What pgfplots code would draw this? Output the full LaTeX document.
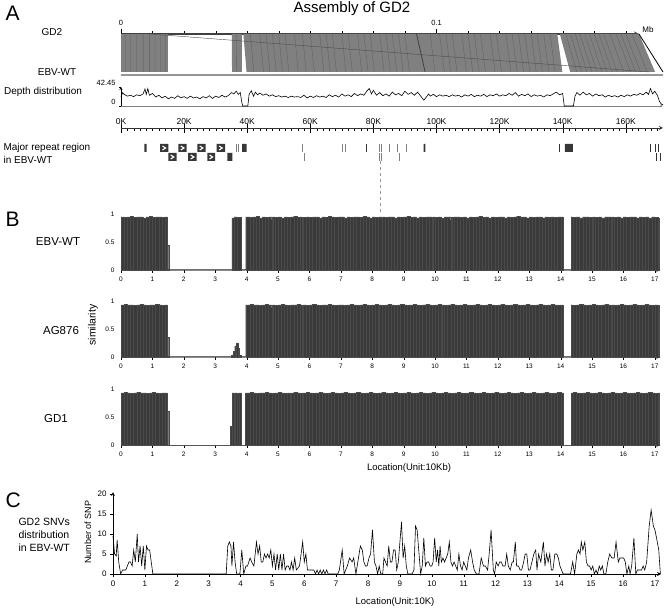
\documentclass[border=0pt]{standalone}
\usepackage{fontspec}
\setmainfont{Liberation Sans}
\usepackage{pgfplots}
\pgfplotsset{compat=1.18}
\definecolor{aligngray}{RGB}{128,128,128}
\definecolor{alignline}{RGB}{96,96,96}
\definecolor{ebvgray}{RGB}{150,150,150}
\definecolor{bardark}{RGB}{58,58,58}
\definecolor{barline}{RGB}{74,74,74}
\definecolor{repdark}{RGB}{55,55,55}
\definecolor{axisgray}{RGB}{120,120,120}

\pgfplotsset{
  base/.style={scale only axis, anchor=south west, clip=false,
    /pgf/number format/assume math mode=true,
    axis line style={-}, tick style={black}},
  simstyle/.style={base, width=539.5pt, height=56pt, xmin=0, xmax=17.18, ymin=0, ymax=1,
    axis x line=bottom, axis y line=left, y axis line style={draw=none},
    x axis line style={draw=axisgray, line width=1pt},
    xtick={0,...,17}, ytick={0,0.5,1}, yticklabels={0,0.5,1},
    tick align=outside, major tick length=3pt, ytick style={draw=none},
    tick label style={font=\fontsize{6.5}{7}\selectfont}},
  simbar/.style={ybar interval, fill=bardark, draw=barline, line width=0.2pt},
}

\newcommand{\lab}[1]{\fontsize{#1}{#1}\selectfont}

\begin{document}
\begin{tikzpicture}
\path[use as bounding box] (0pt,0pt) rectangle (664pt,-609pt);

% ---------------- panel A ----------------
\node[font=\lab{21}, anchor=west] at (2pt,-13pt) {A};
\node[font=\lab{15}] at (352pt,-9pt) {Assembly of GD2};
\node[font=\lab{10}] at (52pt,-32pt) {GD2};
\node[font=\lab{10}] at (57pt,-72pt) {EBV-WT};
\node[font=\lab{10}] at (43pt,-92pt) {Depth distribution};
\node[font=\lab{10}, anchor=west] at (0pt,-148pt) {Major repeat region};
\node[font=\lab{10}, anchor=west] at (0pt,-160pt) {in EBV-WT};
\node[font=\lab{8}] at (648pt,-30pt) {Mb};

% alignment GD2 -> EBV-WT (x in kb)
\begin{axis}[base, at={(121pt,-72pt)}, width=518pt, height=38pt,
  xmin=0, xmax=164.2, ymin=0, ymax=1,
  axis x line=top, axis y line=none,
  x axis line style={draw=black!75, line width=1.2pt},
  xtick={0,100}, xticklabels={0,0.1}, minor xtick={10,20,...,160},
  tick align=outside, major tick length=5pt, minor tick length=2.5pt,
  xticklabel style={font=\lab{7.5}}]
\addplot[fill=aligngray, draw=none] coordinates {(0,1)(15,1)(15,0)(0,0)};
\addplot[fill=aligngray, draw=none] coordinates {(35.1,1)(38.3,1)(38.3,0)(35.2,0)};
\addplot[fill=aligngray, draw=none] coordinates {(38.8,1)(138.3,1)(139.9,0)(39.8,0)};
\addplot[fill=aligngray, draw=none] coordinates {(139.1,1)(164.2,1)(169.3,0)(142.4,0)};
\addplot[draw=alignline, line width=0.35pt, unbounded coords=jump] coordinates {
  (1.5,1)(1.5,0) (nan,nan) (3,1)(3,0) (nan,nan) (5,1)(5,0) (nan,nan) (7,1)(7,0) (nan,nan)
  (9,1)(9,0) (nan,nan) (10.8,1)(10.8,0) (nan,nan) (12.5,1)(12.5,0) (nan,nan) (14,1)(14,0) (nan,nan)
  (36.5,1)(36.6,0) (nan,nan)
  (41,1)(42.1,0) (nan,nan) (44,1)(45.2,0) (nan,nan) (46,1)(47.2,0) (nan,nan) (48,1)(49.2,0) (nan,nan)
  (50,1)(51.2,0) (nan,nan) (52,1)(53.2,0) (nan,nan) (55,1)(56.2,0) (nan,nan) (57.5,1)(58.7,0) (nan,nan)
  (60,1)(61.3,0) (nan,nan) (63,1)(64.3,0) (nan,nan) (65,1)(66.3,0) (nan,nan) (67,1)(68.3,0) (nan,nan)
  (70,1)(71.3,0) (nan,nan) (72,1)(73.3,0) (nan,nan) (75,1)(76.3,0) (nan,nan) (77,1)(78.3,0) (nan,nan)
  (79,1)(80.3,0) (nan,nan) (82,1)(83.4,0) (nan,nan) (84,1)(85.4,0) (nan,nan) (86,1)(87.4,0) (nan,nan)
  (88,1)(89.4,0) (nan,nan) (90,1)(91.4,0) (nan,nan) (98,1)(99.5,0) (nan,nan) (101,1)(102.5,0) (nan,nan)
  (103,1)(104.5,0) (nan,nan) (105,1)(106.5,0) (nan,nan) (108,1)(109.5,0) (nan,nan) (110,1)(111.5,0) (nan,nan)
  (112,1)(113.5,0) (nan,nan) (114,1)(115.5,0) (nan,nan) (117,1)(118.6,0) (nan,nan) (119,1)(120.6,0) (nan,nan)
  (122,1)(123.6,0) (nan,nan) (124,1)(125.6,0) (nan,nan) (126,1)(127.6,0) (nan,nan) (128,1)(129.6,0) (nan,nan)
  (130,1)(131.6,0) (nan,nan) (132,1)(133.6,0) (nan,nan) (134,1)(135.6,0) (nan,nan) (136,1)(137.6,0) (nan,nan)
  (141,1)(144.5,0) (nan,nan) (142.5,1)(146.1,0) (nan,nan) (144,1)(147.7,0) (nan,nan) (145.5,1)(149.3,0) (nan,nan)
  (147,1)(150.9,0) (nan,nan) (148.5,1)(152.5,0) (nan,nan) (150,1)(154.1,0) (nan,nan) (151.5,1)(155.7,0) (nan,nan)
  (153,1)(157.3,0) (nan,nan) (155,1)(159.4,0) (nan,nan) (157,1)(161.5,0) (nan,nan) (158.5,1)(163.1,0) (nan,nan)
  (160,1)(164.7,0) (nan,nan) (162,1)(166.8,0)
};
\addplot[draw=black!75, line width=0.8pt] coordinates {(93.7,1)(96.4,0)};
\addplot[draw=black!70, line width=0.4pt] coordinates {(9.2,1)(167.5,0)};
\addplot[draw=black, line width=0.8pt] coordinates {(164.2,1)(171.8,0)};
\addplot[draw=ebvgray, line width=2.5pt] coordinates {(0,-0.08)(171.8,-0.08)};
\end{axis}

% depth distribution
\begin{axis}[base, at={(121pt,-106pt)}, width=542pt, height=19pt,
  xmin=0, xmax=171.8, ymin=0, ymax=42.45,
  axis x line=bottom, axis y line=left, x axis line style={draw=gray},
  xtick=\empty, ytick={0,42.45}, yticklabels={0,42.45},
  tick align=outside, major tick length=2pt,
  yticklabel style={font=\lab{7.5}, yshift=4pt}]
\addplot[black, line width=0.6pt] coordinates {
(0,20)(0.5,30)(1,26)(2,22)(3,24)(4,21)(5,25)(6,23)(7,27)(7.6,38)(8,26)(8.5,39)(9,24)(10,28)
(11,20)(12,24)(13,18)(14,22)(15,16)(16,20)(17,17)(18,23)(19,18)(20,21)(21,17)(22,22)(23,18)
(24,20)(25,16)(26,21)(27,18)(28,23)(29,17)(30,22)(31,19)(32,24)(33,20)(34,23)(35,30)(35.8,27)
(36.5,33)(37.2,26)(37.8,30)(38.3,8)(38.6,0)(40.2,0)(40.6,26)(41.3,34)(42,22)(42.6,31)(43.3,25)
(44,29)(45,24)(46,27)(47,22)(48,25)(49,21)(50,23)(51,20)(52,22)(53,19)(54,22)(55,20)(56,21)
(57,19)(58,24)(59,18)(60,22)(61,19)(62,23)(63,20)(64,22)(65,19)(66,25)(67,21)(68,24)(69,20)
(70,27)(71,22)(72,25)(73,21)(74,28)(75,23)(76,27)(77,24)(78,34)(78.7,39)(79.4,27)(80,35)(81,24)
(82,30)(83,23)(84,27)(85,22)(86,31)(87,25)(88,28)(89,23)(90,33)(91,26)(92,30)(93,24)(94,31)
(95,22)(96,13)(96.8,20)(97.5,27)(98,22)(99,26)(100,21)(101,25)(102,22)(103,24)(104,21)(105,25)
(106,22)(107,24)(108,20)(109,25)(110,22)(111,26)(112,21)(113,24)(114,22)(115,26)(116,21)(117,25)
(118,23)(119,27)(120,22)(121,25)(122,23)(123,28)(124,24)(125,30)(126,22)(127,26)(128,23)(129,27)
(130,21)(131,25)(132,22)(133,24)(134,20)(135,25)(136,23)(137,27)(138,31)(139,25)(140,28)(140.5,0)
(143.4,0)(143.9,22)(144.5,30)(145.5,24)(146.5,31)(147.5,25)(148.5,28)(149.5,22)(150.5,27)(151.5,23)
(152.5,25)(153.5,20)(154.5,24)(155.5,21)(156.5,23)(157.5,20)(158.5,24)(159.5,21)(160.5,25)(161.5,22)
(162.5,26)(163.5,24)(164.5,28)(165.5,25)(166.5,31)(167.2,26)(167.8,39)(168.5,27)(169.2,33)(170,24)
(170.7,10)(171.3,4)(171.8,3)
};
\end{axis}

% kb scale and major repeat regions (y: 0 at bottom row, 34 at scale line)
\begin{axis}[base, at={(121pt,-162pt)}, width=542pt, height=34pt,
  xmin=0, xmax=171.8, ymin=0, ymax=34,
  axis x line=top, axis y line=none,
  x axis line style={draw=black!80, line width=0.8pt},
  xtick={0,20,...,160}, xticklabels={0K,20K,40K,60K,80K,100K,120K,140K,160K},
  minor xtick={0,2,...,170},
  tick align=inside, major tick length=5pt, minor tick length=3pt,
  extra x ticks={0,20,...,160}, extra x tick labels={},
  extra x tick style={tick align=outside, major tick length=4pt},
  xticklabel style={font=\lab{8.5}}]
\addplot[fill=repdark, draw=none, unbounded coords=jump] coordinates {
  (7.4,10)(8.1,10)(8.1,18)(7.4,18) (nan,nan)
  (12.4,10)(15.0,10)(15.0,18)(12.4,18) (nan,nan)
  (18.2,10)(20.8,10)(20.8,18)(18.2,18) (nan,nan)
  (24.2,10)(26.8,10)(26.8,18)(24.2,18) (nan,nan)
  (30.3,10)(33.0,10)(33.0,18)(30.3,18) (nan,nan)
  (38.4,10)(39.8,10)(39.8,18)(38.4,18) (nan,nan)
  (95.9,10)(96.5,10)(96.5,18)(95.9,18) (nan,nan)
  (140.7,10)(143.2,10)(143.2,18)(140.7,18)
};
\addplot[fill=repdark, draw=none, unbounded coords=jump] coordinates {
  (15.0,1)(17.6,1)(17.6,9)(15.0,9) (nan,nan)
  (21.3,1)(24.0,1)(24.0,9)(21.3,9) (nan,nan)
  (27.4,1)(29.8,1)(29.8,9)(27.4,9) (nan,nan)
  (33.7,1)(35.3,1)(35.3,9)(33.7,9)
};
\addplot[white, line width=1.1pt, unbounded coords=jump] coordinates {
  (13.15,16)(14.15,14)(13.15,12) (nan,nan)
  (18.95,16)(19.95,14)(18.95,12) (nan,nan)
  (24.95,16)(25.95,14)(24.95,12) (nan,nan)
  (31.1,16)(32.1,14)(31.1,12) (nan,nan)
  (15.75,7)(16.75,5)(15.75,3) (nan,nan)
  (22.1,7)(23.1,5)(22.1,3) (nan,nan)
  (28.05,7)(29.05,5)(28.05,3)
};
\addplot[black!80, line width=0.7pt, unbounded coords=jump] coordinates {
  (77.9,10)(77.9,18) (nan,nan) (138.8,10)(138.8,18) (nan,nan)
  (167.7,10)(167.7,18) (nan,nan) (169.3,10)(169.3,18) (nan,nan) (170.2,10)(170.2,18) (nan,nan)
  (169.8,1)(169.8,9) (nan,nan) (170.9,1)(170.9,9)
};
\addplot[black!50, line width=0.5pt, unbounded coords=jump] coordinates {
  (36.4,10)(36.4,18) (nan,nan) (37.2,10)(37.2,18) (nan,nan) (57.5,10)(57.5,18) (nan,nan)
  (70.0,10)(70.0,18) (nan,nan) (71.0,10)(71.0,18) (nan,nan) (81.9,10)(81.9,18) (nan,nan)
  (82.4,10)(82.4,18) (nan,nan) (85.0,10)(85.0,18) (nan,nan) (87.7,10)(87.7,18) (nan,nan)
  (90.3,10)(90.3,18) (nan,nan)
  (58.0,1)(58.0,9) (nan,nan) (81.9,1)(81.9,9) (nan,nan) (82.4,1)(82.4,9) (nan,nan) (88.1,1)(88.1,9)
};
\addplot[black!40, dashed, line width=0.5pt] coordinates {(82.2,1)(82.2,-50)};
\end{axis}

% ---------------- panel B ----------------
\node[font=\lab{21}, anchor=west] at (2pt,-219pt) {B};
\node[font=\lab{11.5}] at (58pt,-242pt) {EBV-WT};
\node[font=\lab{11.5}] at (61pt,-331pt) {AG876};
\node[font=\lab{11.5}] at (56pt,-419pt) {GD1};
\node[font=\lab{10.5}, rotate=90] at (93pt,-325pt) {similarity};
\node[font=\lab{9.5}] at (409pt,-468pt) {Location(Unit:10Kb)};

\begin{axis}[simstyle, at={(121pt,-270pt)}]
\addplot[simbar] coordinates {
(0,.95)(0.1,.94)(0.2,.95)(0.3,.96)(0.4,.94)(0.5,.95)(0.6,.95)(0.7,.93)(0.8,.95)(0.9,.96)(1.0,.94)
(1.1,.95)(1.2,.95)(1.3,.94)(1.4,.95)(1.47,.45)(1.52,0)
(3.53,.93)(3.6,.95)(3.7,.94)(3.82,0)
(3.97,.95)(4.1,.94)(4.2,.95)(4.3,.96)(4.4,.93)(4.5,.95)(4.6,.94)(4.7,.95)(4.8,.90)(4.83,.95)(4.9,.94)
(5.0,.95)(5.1,.93)(5.2,.95)(5.3,.94)(5.4,.95)(5.5,.96)(5.6,.94)(5.7,.95)(5.76,.66)(5.79,.94)(5.9,.95)
(6.0,.94)(6.1,.95)(6.2,.95)(6.3,.93)(6.4,.95)(6.5,.94)(6.6,.96)(6.7,.95)(6.8,.94)(6.9,.95)
(7.0,.95)(7.1,.93)(7.2,.95)(7.3,.94)(7.4,.95)(7.5,.95)(7.6,.94)(7.7,.96)(7.8,.95)(7.9,.93)
(8.0,.95)(8.1,.94)(8.2,.95)(8.3,.92)(8.33,.95)(8.4,.94)(8.5,.95)(8.6,.95)(8.7,.93)(8.8,.95)(8.9,.94)
(9.0,.95)(9.1,.96)(9.2,.94)(9.3,.95)(9.4,.93)(9.5,.95)(9.6,.94)(9.7,.95)(9.8,.95)(9.9,.91)(9.93,.95)
(10.0,.94)(10.1,.95)(10.2,.93)(10.3,.95)(10.4,.95)(10.5,.89)(10.53,.94)(10.6,.95)(10.7,.95)(10.8,.94)(10.9,.95)
(11.0,.93)(11.1,.95)(11.2,.94)(11.3,.95)(11.4,.96)(11.5,.94)(11.6,.95)(11.7,.93)(11.8,.95)(11.9,.94)
(12.0,.95)(12.1,.95)(12.2,.93)(12.3,.95)(12.4,.94)(12.5,.95)(12.6,.96)(12.7,.94)(12.8,.95)(12.9,.93)
(13.0,.95)(13.1,.94)(13.2,.95)(13.3,.95)(13.4,.93)(13.5,.95)(13.6,.94)(13.7,.95)(13.8,.94)(13.9,.95)
(14.0,.95)(14.08,0)
(14.33,.95)(14.4,.94)(14.5,.95)(14.6,.93)(14.7,.95)(14.8,.95)(14.9,.94)(15.0,.90)(15.03,.95)(15.1,.94)
(15.2,.95)(15.3,.93)(15.4,.95)(15.5,.95)(15.6,.91)(15.63,.95)(15.7,.94)(15.8,.95)(15.9,.93)(16.0,.95)
(16.1,.94)(16.2,.95)(16.3,.95)(16.4,.93)(16.5,.95)(16.6,.94)(16.7,.95)(16.8,.93)(16.9,.95)(17.0,.94)
(17.1,.93)(17.15,0)
};
\end{axis}

\begin{axis}[simstyle, at={(121pt,-357pt)}]
\addplot[simbar] coordinates {
(0,.93)(0.1,.94)(0.2,.93)(0.3,.93)(0.4,.92)(0.5,.93)(0.6,.94)(0.7,.93)(0.8,.92)(0.9,.93)(1.0,.93)
(1.1,.94)(1.2,.93)(1.3,.92)(1.4,.93)(1.47,.35)(1.52,0)
(3.52,.04)(3.57,.1)(3.62,.2)(3.67,.25)(3.72,.15)(3.77,.03)(3.82,0)
(3.97,.93)(4.1,.94)(4.2,.93)(4.3,.93)(4.4,.92)(4.5,.93)(4.6,.94)(4.7,.93)(4.8,.88)(4.83,.93)(4.9,.92)
(5.0,.93)(5.1,.94)(5.2,.93)(5.3,.92)(5.4,.93)(5.5,.93)(5.6,.94)(5.7,.93)(5.76,.65)(5.79,.93)(5.9,.92)
(6.0,.93)(6.1,.94)(6.2,.93)(6.3,.92)(6.4,.93)(6.5,.93)(6.6,.94)(6.7,.93)(6.8,.92)(6.9,.93)
(7.0,.93)(7.1,.92)(7.2,.93)(7.3,.94)(7.4,.93)(7.5,.92)(7.6,.93)(7.7,.94)(7.8,.93)(7.9,.92)
(8.0,.93)(8.1,.94)(8.2,.90)(8.23,.93)(8.3,.92)(8.4,.93)(8.5,.94)(8.6,.93)(8.7,.92)(8.8,.93)(8.9,.94)
(9.0,.93)(9.1,.92)(9.2,.93)(9.3,.94)(9.4,.93)(9.5,.92)(9.6,.93)(9.7,.94)(9.8,.93)(9.9,.92)
(10.0,.93)(10.1,.94)(10.2,.89)(10.23,.93)(10.3,.92)(10.4,.93)(10.5,.94)(10.6,.93)(10.7,.92)(10.8,.93)(10.9,.94)
(11.0,.93)(11.1,.92)(11.2,.93)(11.3,.94)(11.4,.93)(11.5,.92)(11.6,.93)(11.7,.94)(11.8,.93)(11.9,.92)
(12.0,.93)(12.1,.94)(12.2,.93)(12.3,.92)(12.4,.93)(12.5,.94)(12.6,.93)(12.7,.92)(12.8,.93)(12.9,.94)
(13.0,.93)(13.1,.92)(13.2,.93)(13.3,.94)(13.4,.93)(13.5,.92)(13.6,.93)(13.7,.94)(13.8,.93)(13.9,.92)
(14.0,.93)(14.08,0)
(14.33,.93)(14.4,.92)(14.5,.93)(14.6,.94)(14.7,.93)(14.8,.92)(14.9,.93)(15.0,.94)(15.1,.93)(15.2,.92)
(15.3,.93)(15.4,.94)(15.5,.93)(15.6,.89)(15.63,.93)(15.7,.92)(15.8,.93)(15.9,.94)(16.0,.93)(16.1,.92)
(16.2,.93)(16.3,.94)(16.4,.93)(16.5,.92)(16.6,.93)(16.7,.94)(16.8,.93)(16.9,.92)(17.0,.93)(17.1,.92)
(17.15,0)
};
\end{axis}

\begin{axis}[simstyle, at={(121pt,-445pt)}]
\addplot[simbar] coordinates {
(0,.93)(0.1,.94)(0.2,.93)(0.3,.92)(0.4,.93)(0.5,.94)(0.6,.93)(0.7,.93)(0.8,.92)(0.9,.93)(1.0,.94)
(1.1,.93)(1.2,.92)(1.3,.93)(1.4,.93)(1.47,.6)(1.52,0)
(3.49,.33)(3.54,.93)(3.6,.85)(3.63,.93)(3.7,.92)(3.76,.93)(3.83,0)
(3.96,.93)(4.1,.94)(4.2,.93)(4.3,.92)(4.4,.93)(4.5,.93)(4.6,.94)(4.7,.93)(4.8,.92)(4.9,.93)
(5.0,.94)(5.1,.93)(5.2,.92)(5.3,.93)(5.4,.88)(5.43,.93)(5.5,.94)(5.6,.93)(5.7,.92)(5.76,.57)(5.79,.93)(5.9,.94)
(6.0,.93)(6.1,.92)(6.2,.93)(6.3,.94)(6.4,.93)(6.5,.92)(6.6,.93)(6.7,.94)(6.8,.93)(6.9,.92)
(7.0,.93)(7.1,.94)(7.2,.93)(7.3,.92)(7.4,.93)(7.5,.94)(7.6,.93)(7.7,.92)(7.8,.93)(7.9,.94)
(8.0,.93)(8.1,.92)(8.2,.93)(8.3,.94)(8.4,.93)(8.5,.92)(8.6,.93)(8.7,.94)(8.8,.93)(8.9,.92)
(9.0,.93)(9.1,.94)(9.2,.93)(9.3,.92)(9.4,.93)(9.5,.94)(9.6,.93)(9.7,.92)(9.8,.93)(9.9,.94)
(10.0,.93)(10.1,.92)(10.2,.93)(10.3,.94)(10.4,.93)(10.5,.92)(10.6,.93)(10.7,.94)(10.8,.93)(10.9,.92)
(11.0,.93)(11.1,.94)(11.2,.93)(11.3,.92)(11.4,.93)(11.5,.94)(11.6,.93)(11.7,.92)(11.8,.93)(11.9,.94)
(12.0,.93)(12.1,.92)(12.2,.93)(12.3,.94)(12.4,.93)(12.5,.92)(12.6,.93)(12.7,.94)(12.8,.93)(12.9,.92)
(13.0,.93)(13.1,.94)(13.2,.93)(13.3,.92)(13.4,.93)(13.5,.94)(13.6,.93)(13.7,.92)(13.8,.93)(13.9,.94)
(14.0,.93)(14.08,0)
(14.33,.93)(14.4,.94)(14.5,.93)(14.6,.92)(14.7,.93)(14.8,.94)(14.9,.93)(15.0,.92)(15.1,.93)(15.2,.94)
(15.3,.93)(15.4,.92)(15.5,.93)(15.6,.94)(15.7,.93)(15.8,.92)(15.9,.93)(16.0,.94)(16.1,.93)(16.2,.92)
(16.3,.93)(16.4,.94)(16.5,.93)(16.6,.92)(16.7,.93)(16.8,.94)(16.9,.93)(17.0,.92)(17.1,.93)(17.15,0)
};
\end{axis}

% ---------------- panel C ----------------
\node[font=\lab{21}, anchor=west] at (2pt,-500pt) {C};
\node[font=\lab{10.5}, anchor=west] at (15pt,-522pt) {GD2 SNVs};
\node[font=\lab{10.5}, anchor=west] at (15pt,-535pt) {distribution};
\node[font=\lab{10.5}, anchor=west] at (15pt,-548pt) {in EBV-WT};
\node[font=\lab{9}, rotate=90] at (88pt,-532pt) {Number of SNP};
\node[font=\lab{9.5}] at (395pt,-602pt) {Location(Unit:10K)};

\begin{axis}[base, at={(113pt,-574pt)}, width=548pt, height=82pt,
  xmin=0, xmax=17.19, ymin=0, ymax=20.5,
  axis x line=bottom, axis y line=left, axis line style={line width=0.8pt},
  xtick={0,...,17}, ytick={0,5,...,20},
  tick align=outside, major tick length=3pt,
  tick label style={font=\lab{8}}]
\addplot[black, line width=0.6pt] coordinates {
(0,9.5)(0.05,5)(0.1,4.5)(0.13,8.5)(0.18,3)(0.24,0)(0.3,1)(0.4,1)(0.5,3)(0.55,3)(0.6,2)(0.65,6)(0.7,3)
(0.76,10)(0.8,3)(0.85,7)(0.9,2)(0.95,7)(1.0,1)(1.05,7)(1.1,6)(1.15,6)(1.25,0)(3.55,0)(3.6,7)(3.65,8)
(3.7,7)(3.73,2)(3.78,8)(3.83,3)(3.88,0)(3.98,0)(4.04,6)(4.1,0)(4.17,2)(4.22,2)(4.3,4)(4.35,3)(4.42,2)
(4.5,8)(4.55,5)(4.6,7)(4.65,3)(4.7,3)(4.75,5)(4.8,4)(4.85,5)(4.9,4)(4.95,6)(5.0,2)(5.05,5)(5.1,1)
(5.15,5)(5.2,1)(5.25,5)(5.3,1)(5.35,5)(5.4,1)(5.45,2)(5.5,2)(5.55,1)(5.6,3)(5.65,1)(5.7,4)(5.75,1)
(5.85,2)(5.95,8)(6.0,3)(6.05,5)(6.1,1)(6.3,1)(6.35,0)(6.4,1)(6.45,0)(6.5,1)(6.55,0)(6.6,1)(6.65,0)
(6.7,1)(6.75,0)(7.05,0)(7.1,1)(7.19,6)(7.25,0)(7.35,2)(7.42,4)(7.5,3)(7.55,4)(7.62,0)(7.7,4)(7.76,7)
(7.82,6)(7.87,3)(7.92,2)(7.97,2)(8.03,4)(8.08,5)(8.14,11)(8.2,3)(8.25,2)(8.3,0)(8.35,2)(8.4,0)(8.46,0)
(8.5,4)(8.55,3)(8.6,2)(8.65,7)(8.7,3)(8.75,3)(8.8,6)(8.85,6)(8.9,1)(8.95,3)(9.05,13)(9.1,4)(9.15,7)
(9.2,2)(9.25,0)(9.38,0)(9.44,1)(9.49,12)(9.54,11)(9.6,5)(9.65,0)(9.7,2)(9.75,9)(9.8,2)(9.85,3)(9.9,3)
(9.95,2)(10.0,2)(10.04,3)(10.09,9)(10.14,3)(10.18,6)(10.22,2)(10.26,7)(10.3,3)(10.35,4)(10.4,3)
(10.45,4)(10.5,5)(10.55,8)(10.6,3)(10.65,2)(10.7,3)(10.75,2)(10.8,1)(10.85,5)(10.9,2)(10.95,1)(11.0,3)
(11.05,2)(11.1,1)(11.15,4)(11.22,6)(11.28,3)(11.33,1)(11.4,0)(11.48,0)(11.55,4)(11.62,2)(11.68,2)
(11.75,1)(11.8,5)(11.86,11)(11.93,1)(11.97,0)(12.02,3)(12.08,2)(12.13,3)(12.18,3)(12.23,2)(12.3,2)
(12.35,5)(12.4,2)(12.46,1)(12.52,3)(12.56,3)(12.62,8)(12.66,2)(12.72,2)(12.77,1)(12.82,1)(12.88,3)
(12.93,5)(12.98,5)(13.03,1)(13.08,1)(13.14,3)(13.2,5)(13.26,6)(13.3,1)(13.35,5)(13.42,3)(13.5,8)
(13.55,2)(13.6,5)(13.65,3)(13.7,5)(13.75,1)(13.8,1)(13.86,5)(13.92,5)(13.97,4)(14.02,2)(14.07,1)
(14.12,0)(14.35,0)(14.42,3)(14.48,0)(14.55,5)(14.6,6)(14.65,5)(14.69,8)(14.74,6)(14.8,8)(14.85,3)
(14.9,2)(14.95,2)(15.0,1)(15.05,2)(15.1,0)(15.15,1)(15.2,0)(15.25,2)(15.3,1)(15.35,2)(15.4,0)(15.46,0)
(15.52,3)(15.58,5)(15.65,4)(15.72,4)(15.78,8)(15.85,3)(15.9,4)(15.95,4)(16.02,4)(16.07,3)(16.12,0)
(16.18,2)(16.22,0)(16.27,2)(16.34,9)(16.4,0)(16.45,1)(16.52,1)(16.58,1)(16.63,2)(16.68,1)(16.74,3)
(16.82,12)(16.88,16)(16.95,12)(17.0,11)(17.05,9)(17.12,6)(17.17,0)
};
\end{axis}
\end{tikzpicture}
\end{document}
